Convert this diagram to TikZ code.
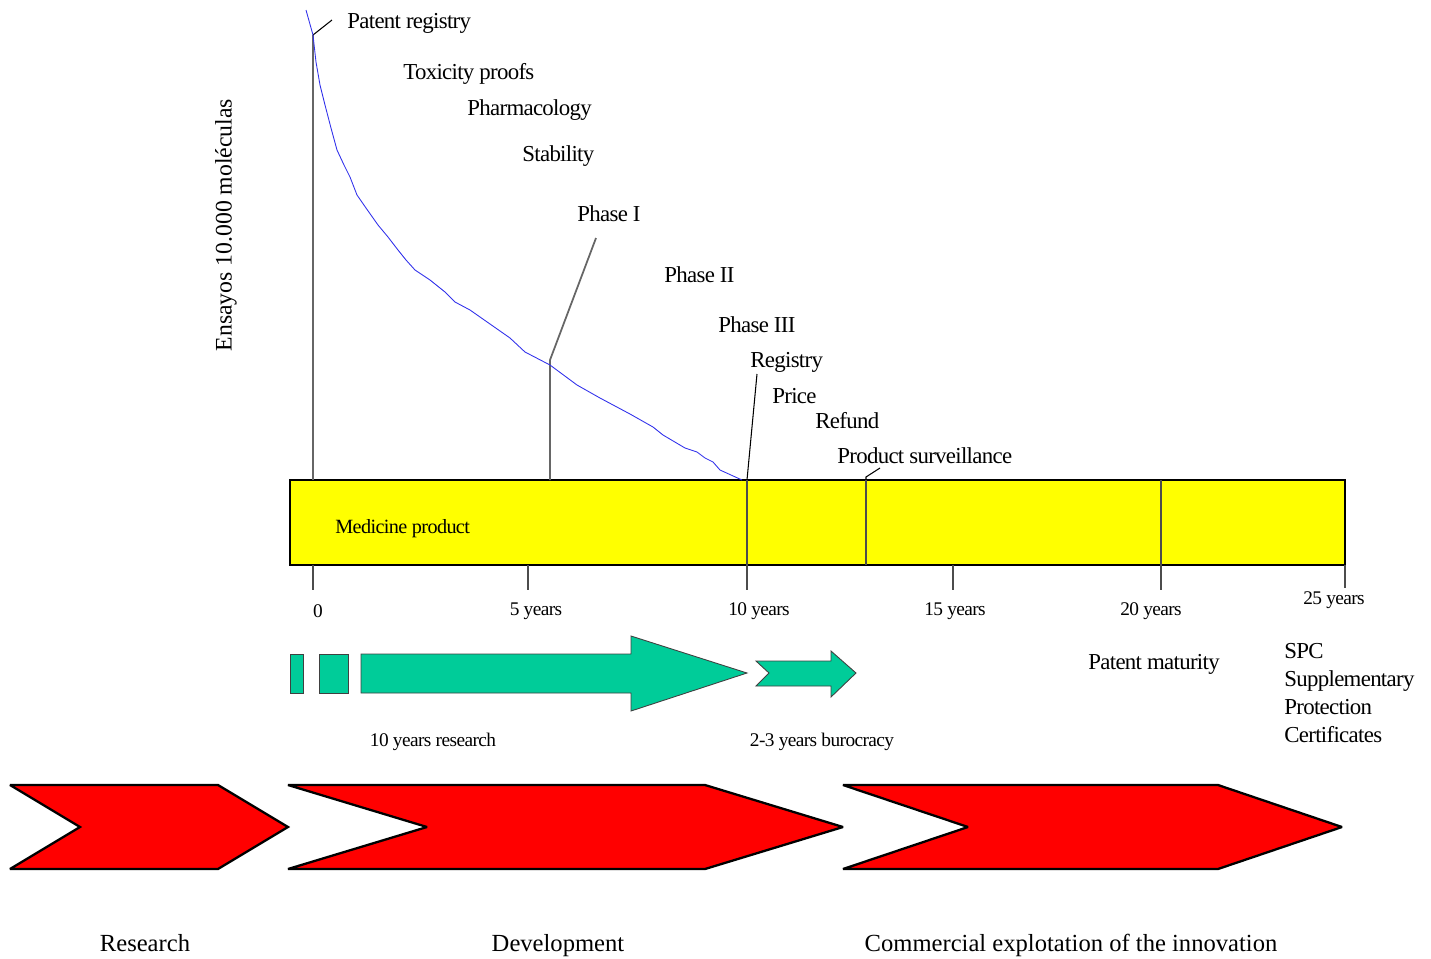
\documentclass[tikz,border=0pt]{standalone}
\usepackage{fontspec}
\setmainfont{Liberation Serif}
\newfontfamily\tightfont{Liberation Serif}[LetterSpace=-3]
\definecolor{arrowgreen}{RGB}{0,204,153}
\definecolor{curveblue}{RGB}{50,50,235}
\definecolor{baryellow}{RGB}{255,255,0}
\definecolor{chevred}{RGB}{255,0,0}
\begin{document}
\begin{tikzpicture}[x=0.02cm,y=-0.02cm,
  lbl/.style={font=\tightfont\fontsize{13}{15}\selectfont, anchor=west, inner sep=0pt},
  ticklbl/.style={font=\tightfont\fontsize{11}{13}\selectfont, inner sep=0pt},
  biglbl/.style={font=\fontsize{14}{16}\selectfont, inner sep=0pt},
  phase/.style={fill=chevred, draw=black, line width=1.3pt, line join=miter, miter limit=2},
  greenshape/.style={fill=arrowgreen, draw=black!75, line width=0.5pt},
  bar/.style={fill=baryellow, draw=black, line width=0.6pt},
  leader/.style={draw=black, line width=0.6pt},
  axisline/.style={draw=black!60, line width=1pt},
  tickline/.style={draw=black!70, line width=0.7pt}]
\useasboundingbox (0,0) rectangle (1431,958);

% yellow bar
\draw[bar] (290,480) rectangle (1345,565);
\node[ticklbl, anchor=west, font=\tightfont\fontsize{11.5}{13}\selectfont] (medicine) at (335,529) {Medicine product};

% named coordinates
\coordinate (c0top) at (313,35);
\coordinate (c0bar) at (313,480);
\coordinate (phIbend) at (550,360);
\coordinate (phIend) at (596,238);
\coordinate (phIbar) at (550,480);
\coordinate (regend) at (757,374);
\coordinate (regbar) at (747,480);
\coordinate (patend) at (332,20);
\coordinate (psbar) at (866,480);
\coordinate (psbend) at (866,477);
\coordinate (psend) at (880,468);

% vertical lines above bar
\draw[axisline] (c0top) -- (c0bar);
\draw[axisline] (phIend) -- (phIbend) -- (phIbar);
\draw[leader] (c0top) -- (patend);
\draw[leader] (regend) -- (regbar);
\draw[leader] (psbar) -- (psbend) -- (psend);

% dividers in bar
\draw[tickline] (747,480) -- (747,590);
\draw[tickline] (866,480) -- (866,565);
\draw[tickline] (1161,480) -- (1161,590);
% ticks
\draw[tickline] (313,565) -- (313,590);
\draw[tickline] (528,565) -- (528,590);
\draw[tickline] (953,565) -- (953,590);
\draw[tickline] (1345,565) -- (1345,588);

% blue curve
\draw[curveblue, line width=0.5pt] (306,10) -- (313,35) -- (316,62) -- (320,85) -- (325,105) -- (331,128) -- (337,150) -- (344,165) -- (350,177) -- (357,195) -- (366,208) -- (378,225) -- (388,237) -- (398,250) -- (406,260) -- (415,270) -- (430,280) -- (445,292) -- (455,302) -- (470,310) -- (490,324) -- (510,338) -- (525,352) -- (550,365) -- (577,385) -- (600,398) -- (630,414) -- (653,427) -- (663,435) -- (685,448) -- (697,452) -- (705,458) -- (713,462) -- (720,470) -- (742,480);

% labels above
\node[lbl] (patent) at (347,23) {Patent registry};
\node[lbl] (tox) at (403,74) {Toxicity proofs};
\node[lbl] (pharm) at (467,110) {Pharmacology};
\node[lbl] (stab) at (522,156) {Stability};
\node[lbl] (ph1) at (577,214) {Phase I};
\node[lbl] (ph2) at (664,275) {Phase II};
\node[lbl] (ph3) at (718,325) {Phase III};
\node[lbl] (reg) at (750,362) {Registry};
\node[lbl] (price) at (772,396) {Price};
\node[lbl] (refund) at (815,421) {Refund};
\node[lbl] (surv) at (837,456) {Product surveillance};

% vertical label
\node[biglbl, font=\fontsize{13.5}{15}\selectfont, rotate=90] (ensayos) at (226,225) {Ensayos 10.000 moléculas};

% tick labels
\node[ticklbl] (t0) at (318,611) {0};
\node[ticklbl] (t5) at (536,611) {5 years};
\node[ticklbl] (t10) at (759,611) {10 years};
\node[ticklbl] (t15) at (955,611) {15 years};
\node[ticklbl] (t20) at (1151,611) {20 years};
\node[ticklbl] (t25) at (1334,600) {25 years};

\node[lbl] (maturity) at (1088,664) {Patent maturity};
\node[lbl, align=left, anchor=north west, font=\tightfont\fontsize{13}{16}\selectfont] (spc) at (1284,643) {SPC\\Supplementary\\Protection\\Certificates};

% green arrows
\draw[greenshape] (290,654) rectangle (303,693);
\draw[greenshape] (319,654) rectangle (348,693);
\draw[greenshape] (361,654) -- (631,654) -- (631,636) -- (747,673) -- (631,711) -- (631,693) -- (361,693) -- cycle;
\draw[greenshape] (756,661) -- (831,661) -- (831,651) -- (856,673) -- (831,697) -- (831,686) -- (756,686) -- (769,673) -- cycle;

\node[ticklbl] (research10) at (433,742) {10 years research};
\node[ticklbl] (buro) at (822,742) {2-3 years burocracy};

% red chevrons
\draw[phase] (10,785) -- (218,785) -- (288,827) -- (218,869) -- (10,869) -- (80,827) -- cycle;
\draw[phase] (288,785) -- (705,785) -- (843,827) -- (705,869) -- (288,869) -- (427,827) -- cycle;
\draw[phase] (843,785) -- (1218,785) -- (1342,827) -- (1218,869) -- (843,869) -- (968,827) -- cycle;

\node[biglbl, anchor=base] (research) at (145,951) {Research};
\node[biglbl, anchor=base] (devel) at (558,951) {Development};
\node[biglbl, anchor=base] (commercial) at (1071,951) {Commercial explotation of the innovation};
\end{tikzpicture}
\end{document}
